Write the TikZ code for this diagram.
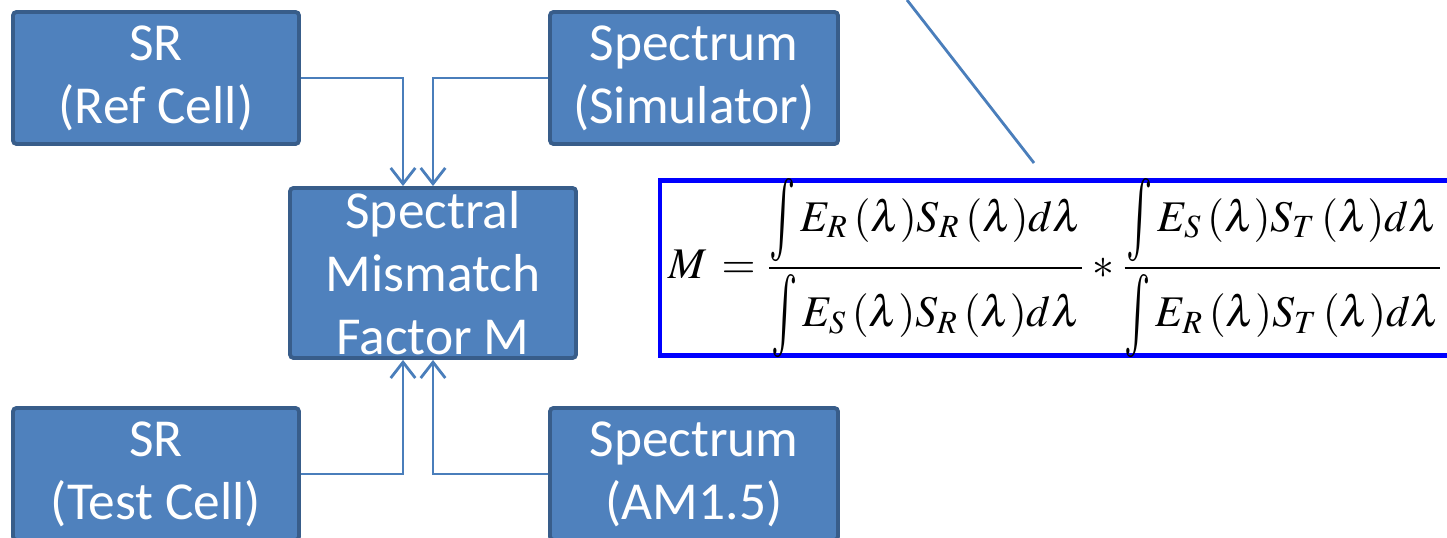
\documentclass[tikz,border=0pt]{standalone}
\usepackage{mathptmx}
\usepackage{fontspec}
\setmainfont{Carlito}
\usetikzlibrary{arrows.meta}
\definecolor{boxfill}{RGB}{79,129,189}
\definecolor{boxline}{RGB}{56,93,138}
\definecolor{wire}{RGB}{74,126,187}
\definecolor{eqblue}{RGB}{0,0,255}
\newcommand{\tallint}{\mathop{\vcenter{\hbox{\scalebox{1}[1.9]{$\int$}}}}\nolimits}
\begin{document}
\begin{tikzpicture}[x=1cm,y=1cm,
  block/.style={draw=boxline, line width=1.1pt, fill=boxfill, rounded corners=1pt, text=white, align=center, inner sep=0pt, font=\fontsize{15.2}{17.9}\selectfont, execute at begin node=\rule{0pt}{12.6pt}},
  feed/.style={draw=wire, line width=0.8pt, -{Straight Barb[length=4.5pt,width=7pt]}}]
\useasboundingbox (0,0) rectangle (14.47,-5.38);
\clip (0,0) rectangle (14.47,-5.38);
\node[block, minimum width=2.86cm, minimum height=1.32cm] (ref) at (1.56,-0.78) {SR\\(Ref Cell)};
\node[block, minimum width=2.88cm, minimum height=1.32cm] (sim) at (6.94,-0.78) {Spectrum\\(Simulator)};
\node[block, minimum width=2.86cm, minimum height=1.70cm] (mm) at (4.33,-2.73) {Spectral\\Mismatch\\Factor M};
\node[block, minimum width=2.86cm, minimum height=1.32cm] (test) at (1.56,-4.74) {SR\\(Test Cell)};
\node[block, minimum width=2.88cm, minimum height=1.32cm] (am) at (6.94,-4.74) {Spectrum\\(AM1.5)};
\node[draw=eqblue, line width=1.4pt, minimum width=9cm, minimum height=1.75cm, anchor=west, inner sep=0pt] (eqbox) at (6.575,-2.68) {};
\node[anchor=west, inner sep=0pt, font=\fontsize{12.45}{15}\selectfont] (eq) at (6.68,-2.68)
  {$\displaystyle M\,=\frac{\tallint E_{R}\,(\lambda)S_{R}\,(\lambda)d\lambda}{\tallint E_{S}\,(\lambda)S_{R}\,(\lambda)d\lambda}*\frac{\tallint E_{S}\,(\lambda)S_{T}\,(\lambda)d\lambda}{\tallint E_{R}\,(\lambda)S_{T}\,(\lambda)d\lambda}$};
\coordinate (calltop) at (9.07,0);
\coordinate (calltip) at (10.34,-1.63);
\draw[feed] (ref.east) -| ([xshift=-0.3cm]mm.north);
\draw[feed] (sim.west) -| (mm.north);
\draw[feed] (test.east) -| ([xshift=-0.3cm]mm.south);
\draw[feed] (am.west) -| (mm.south);
\draw[draw=wire, line width=0.8pt] (calltop) -- (calltip);
\end{tikzpicture}
\end{document}
